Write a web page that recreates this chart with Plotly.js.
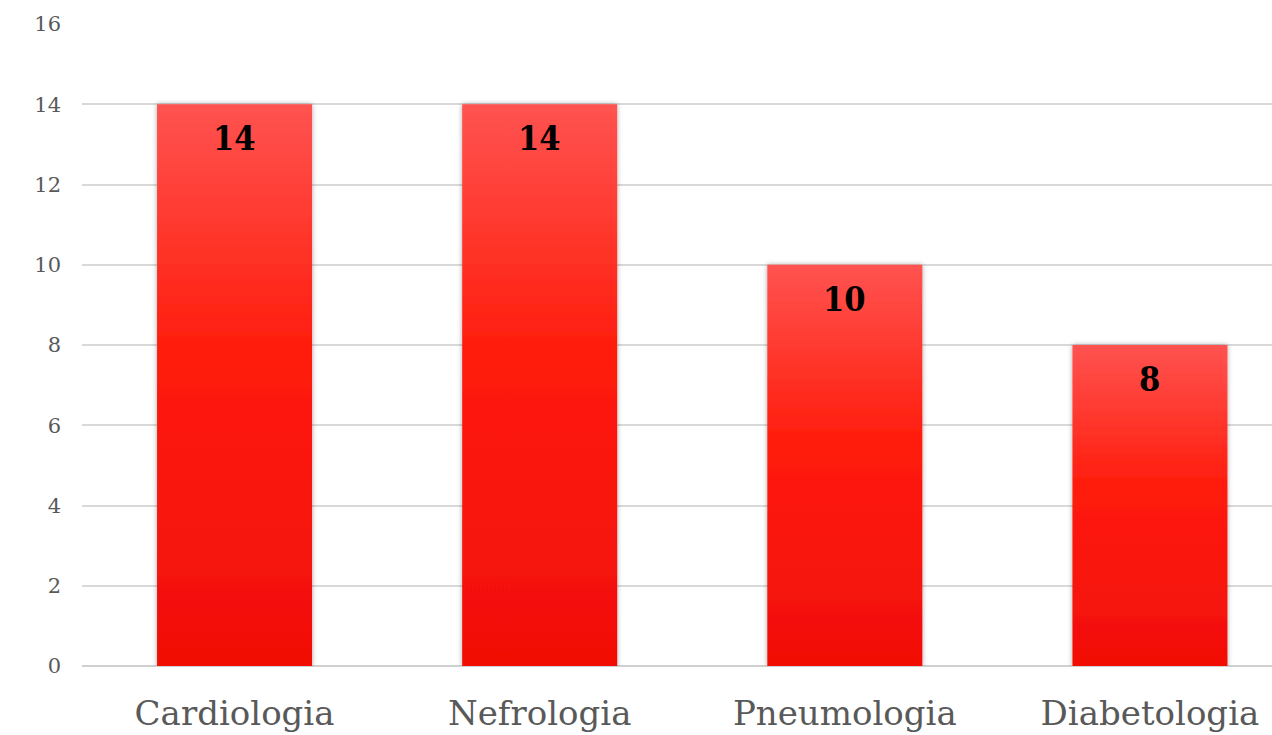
<!DOCTYPE html>
<html>
<head>
<meta charset="utf-8">
<script src="https://cdn.plot.ly/plotly-3.0.1.min.js"></script>
<style>
html,body{margin:0;padding:0;background:#fff;}
#chart{width:1272px;height:735px;}
</style>
</head>
<body>
<div id="chart"></div>
<script>
const categories = ["Cardiologia", "Nefrologia", "Pneumologia", "Diabetologia"];
const values = [14, 14, 10, 8];
const yTickValues = [0, 2, 4, 6, 8, 10, 12, 14, 16];

const serif = "DejaVu Serif, Liberation Serif, serif";

const trace = {
  type: "bar",
  x: categories,
  y: values,
  width: 0.508,
  marker: { color: "#FF1A0A", line: { width: 0 } },
  hoverinfo: "none"
};

const annotations = categories.map((c, i) => ({
  x: c, y: values[i], xref: "x", yref: "y",
  text: "<b>" + values[i] + "</b>",
  showarrow: false, yshift: -34,
  font: { family: "DejaVu Serif Condensed, DejaVu Serif, serif", size: 34, color: "#000" }
}));

const layout = {
  width: 1272, height: 735,
  margin: { l: 82, r: 0, t: 24, b: 69 },
  paper_bgcolor: "#fff", plot_bgcolor: "#fff",
  showlegend: false,
  xaxis: {
    range: [-0.5, 3.4],
    showgrid: false, zeroline: false, showline: false,
    ticks: "", ticklabelstandoff: 24,
    tickfont: { family: serif, size: 34, color: "#595959" },
    fixedrange: true
  },
  yaxis: {
    range: [0, 16],
    tickvals: yTickValues,
    ticktext: yTickValues.map(String),
    showgrid: true, gridcolor: "#D9D9D9", gridwidth: 2,
    zeroline: true, zerolinecolor: "#D0D0D0", zerolinewidth: 2,
    showline: false, ticks: "", ticklabelstandoff: 20,
    tickfont: { family: serif, size: 21, color: "#595959" },
    fixedrange: true
  },
  annotations: annotations
};

Plotly.newPlot("chart", [trace], layout, { displayModeBar: false, staticPlot: true }).then(gd => {
  const svg = gd.querySelector("svg.main-svg");
  const ns = "http://www.w3.org/2000/svg";
  let defs = svg.querySelector("defs");
  if (!defs) { defs = document.createElementNS(ns, "defs"); svg.insertBefore(defs, svg.firstChild); }
  const grad = document.createElementNS(ns, "linearGradient");
  grad.setAttribute("id", "barGrad");
  grad.setAttribute("x1", "0"); grad.setAttribute("y1", "0");
  grad.setAttribute("x2", "0"); grad.setAttribute("y2", "1");
  [["0%", "#FF5350"], ["45%", "#FF1B0B"], ["100%", "#F10E06"]].forEach(([o, c]) => {
    const s = document.createElementNS(ns, "stop");
    s.setAttribute("offset", o); s.setAttribute("stop-color", c);
    grad.appendChild(s);
  });
  defs.appendChild(grad);
  const filt = document.createElementNS(ns, "filter");
  filt.setAttribute("id", "barShadow");
  filt.setAttribute("x", "-10%"); filt.setAttribute("y", "-5%");
  filt.setAttribute("width", "120%"); filt.setAttribute("height", "110%");
  const ds = document.createElementNS(ns, "feDropShadow");
  ds.setAttribute("dx", "0"); ds.setAttribute("dy", "0");
  ds.setAttribute("stdDeviation", "2.5");
  ds.setAttribute("flood-color", "#000"); ds.setAttribute("flood-opacity", "0.35");
  filt.appendChild(ds);
  defs.appendChild(filt);
  gd.querySelectorAll(".barlayer .point path").forEach(p => {
    p.style.fill = "url(#barGrad)";
    p.setAttribute("filter", "url(#barShadow)");
  });
});
</script>
</body>
</html>
